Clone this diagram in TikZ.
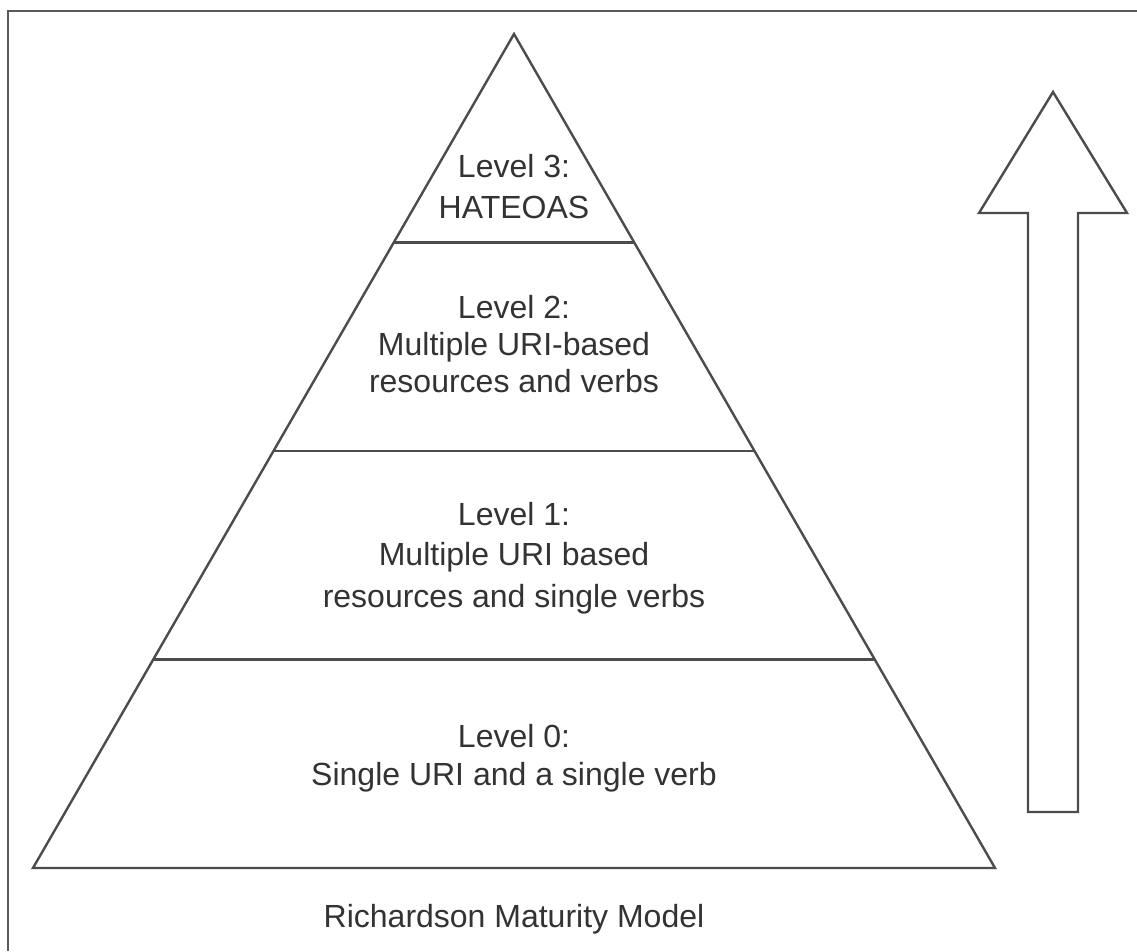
\documentclass[tikz,border=0pt]{standalone}
\usepackage{fontspec}
\setmainfont{Liberation Sans}
\usepackage{xcolor}
\usepackage{tikz}
\usetikzlibrary{calc, positioning}

\tikzset{
    levelbox/.style={align=center, anchor=base, text=black!80,
        font=\fontsize{32}{40}\selectfont},
    pyrline/.style={line width=2.4pt, draw=black!70, line join=miter}
}

\begin{document}
\begin{tikzpicture}[x=1pt, y=-1pt]
    % 0. Khung trang
    \useasboundingbox (0,0) rectangle (1137,951);
    \fill[white] (0,0) rectangle (1137,951);
    \draw[line width=2.5pt, black!65] (8,951) -- (8,11) -- (1137,11);

    % 1. Kim tự tháp
    \coordinate (apex) at (514,34);
    \coordinate (bl) at (33,868);
    \coordinate (br) at (995,868);
    \draw[pyrline] (apex) -- (br) -- (bl) -- cycle;

    % 2. Các đường chia tầng
    \foreach \t in {0.25, 0.5, 0.75}
        \draw[pyrline] ($(apex)!\t!(bl)$) -- ($(apex)!\t!(br)$);

    % 3. Nhãn các tầng (base = dòng cuối)
    \node[levelbox] (lv3) at (514,218) {Level 3:\\[1pt]HATEOAS};
    \node[levelbox] (lv2) at (514,392)
        {Level 2:\\[-3pt]Multiple URI-based\\[-3pt]resources and verbs};
    \node[levelbox] (lv1) at (514,607)
        {Level 1:\\Multiple URI based\\[2pt]resources and single verbs};
    \node[levelbox] (lv0) at (514,785)
        {Level 0:\\[-2pt]Single URI and a single verb};

    % 4. Mũi tên hướng lên
    \draw[pyrline] (1028,812) -- (1028,213) -- (979,213) -- (1053,92)
        -- (1127,213) -- (1078,213) -- (1078,812) -- cycle;

    % 5. Chú thích
    \node[levelbox] (title) at (514,927) {Richardson Maturity Model};
\end{tikzpicture}
\end{document}
